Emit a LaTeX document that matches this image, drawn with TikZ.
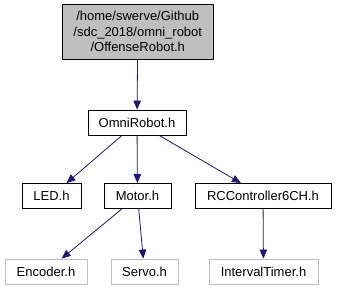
\documentclass[tikz,border=0pt]{standalone}
\usepackage{fontspec}
\setmainfont{Liberation Sans}
\usetikzlibrary{arrows.meta}
\definecolor{edgeblue}{HTML}{191970}
\definecolor{boxgrey}{HTML}{BFBFBF}
\begin{document}
\begin{tikzpicture}[x=1pt,y=-1pt,
  every node/.style={font=\fontsize{13}{15.5}\selectfont, inner sep=0pt, align=center},
  hdr/.style={draw=black, line width=0.8pt, minimum height=25pt},
  root/.style={draw=black, fill=boxgrey, line width=0.8pt},
  ext/.style={draw=boxgrey, line width=0.8pt, minimum height=25pt},
  dep/.style={draw=edgeblue, line width=0.8pt, -{Triangle[length=9pt,width=7.5pt]}}]
  \useasboundingbox (0,0) rectangle (337,291);
  % include graph nodes
  \node[root, minimum width=150.5pt, minimum height=55pt] (top) at (137.75,31.5)
    {/home/swerve/Github\\/sdc\_2018/omni\_robot\\/OffenseRobot.h};
  \node[hdr, minimum width=98pt]  (omni)  at (137,122.5) {OmniRobot.h};
  \node[hdr, minimum width=59pt]  (led)   at (51.5,196)  {LED.h};
  \node[hdr, minimum width=67pt]  (motor) at (137.5,196) {Motor.h};
  \node[hdr, minimum width=136pt] (rc)    at (263,196)   {RCController6CH.h};
  \node[ext, minimum width=82pt]  (enc)   at (46,271.5)  {Encoder.h};
  \node[ext, minimum width=67pt]  (servo) at (144.5,271.5) {Servo.h};
  \node[ext, minimum width=109pt] (timer) at (263.5,271.5) {IntervalTimer.h};
  % include dependencies
  \draw[dep] (top) -- (omni);
  \draw[dep] (omni) -- (led);
  \draw[dep] (omni) -- (motor);
  \draw[dep] (omni) -- (rc);
  \draw[dep] (motor) -- (enc);
  \draw[dep] (motor) -- (servo);
  \draw[dep] (rc) -- (timer);
\end{tikzpicture}
\end{document}
